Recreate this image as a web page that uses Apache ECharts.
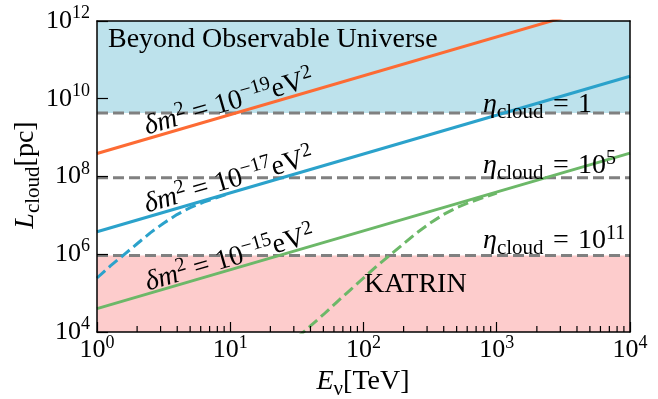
<!DOCTYPE html>
<html><head><meta charset="utf-8">
<script src="https://cdn.jsdelivr.net/npm/echarts@6/dist/echarts.min.js"></script>
<style>html,body{margin:0;padding:0;background:#fff}#c{width:658px;height:399px}</style>
</head><body><div id="c"></div>
<script>
// ---------- data ----------
const xRange = [1, 10000];                 // E_nu [TeV]
const yRange = [1e4, 1e12];                // L_cloud [pc]
const xMinorTicks = [2,3,4,5,6,7,8,9,20,30,40,50,60,70,80,90,200,300,400,500,600,700,800,900,2000,3000,4000,5000,6000,7000,8000,9000];

const solidE  = [1, 10000];
const orangeL = [3.9e8, 3.9e12];   // dm2 = 1e-19 eV^2
const blueL   = [3.8e6, 3.8e10];   // dm2 = 1e-17 eV^2
const greenL  = [4.0e4, 4.0e8];    // dm2 = 1e-15 eV^2

const blueDashE  = [1, 1.26, 1.58, 2.0, 2.51, 3.16, 3.98, 5.01, 6.31, 7.94, 10];
const blueDashL  = [2.45e5, 5.0e5, 9.5e5, 1.86e6, 3.55e6, 6.3e6, 1.05e7, 1.58e7, 2.19e7, 2.88e7, 3.72e7];
const greenDashE = [31.6, 39.8, 50.1, 63.1, 79.4, 100, 126, 158, 200, 251, 316, 398, 501, 631, 794, 1000];
const greenDashL = [7.1e3, 1.41e4, 2.82e4, 5.9e4, 1.2e5, 2.45e5, 5.0e5, 9.5e5, 1.86e6, 3.55e6, 6.3e6, 1.05e7, 1.58e7, 2.19e7, 2.88e7, 3.72e7];

const etaLevels  = [4.32e9, 9.3e7, 9.3e5];        // eta_cloud = 1, 1e5, 1e11
const etaExp     = ['', '5', '11'];
const universeBand = [4.32e9, 1e12];
const katrinBand   = [1e4, 9.3e5];
const dm2Exp = ['\u221219', '\u221217', '\u221215'];

// ---------- style ----------
const FONT = 'Liberation Serif';
const C_OR = '#fd6b34', C_BL = '#2ba2cb', C_GR = '#6cb868';
const C_GRAY = '#808080';
const DASH = [11, 5];

const zip = (a, b) => a.map((v, i) => [v, b[i]]);
function mkRich(fs, fss, fsb) {
  return {
    n:   {fontFamily: FONT, fontSize: fs, lineHeight: Math.round(fs * 1.25), color: '#000', fill: '#000'},
    it:  {fontFamily: FONT, fontSize: fs, lineHeight: Math.round(fs * 1.25), fontStyle: 'italic', color: '#000', fill: '#000'},
    sup: {fontFamily: FONT, fontSize: fss, verticalAlign: 'top', color: '#000', fill: '#000'},
    sub: {fontFamily: FONT, fontSize: fsb, verticalAlign: 'bottom', color: '#000', fill: '#000'}
  };
}
const richTick = mkRich(26, 18, 18);
const richText = mkRich(28, 20, 21);
const tickFmt = v => '{n|10}{sup|' + Math.round(Math.log10(v)) + '}';

const chart = echarts.init(document.getElementById('c'), null, {renderer: 'canvas'});

const ANG = Math.atan(38.9 / 133.25);
function txt(x, y, text, rot, align) {
  return {type: 'text', x: x, y: y, rotation: rot || 0, z: 100, silent: true,
    style: {text: text, rich: richText, fill: '#000', font: '28px ' + FONT,
      align: align || 'left', textAlign: align || 'left', verticalAlign: 'middle', textVerticalAlign: 'middle'}};
}
const dmPos = [[229, 103], [229, 181], [230, 259]];
const etaPos = [[483, 105], [483, 166], [483, 241]];
const graphics = [];
dm2Exp.forEach((e, i) => graphics.push(txt(dmPos[i][0], dmPos[i][1],
  '{it|\u03b4m}{sup|2}{n| = 10}{sup|' + e + '}{n|eV}{sup|2}', ANG, 'center')));
etaExp.forEach((e, i) => graphics.push(txt(etaPos[i][0], etaPos[i][1],
  '{it|\u03b7}{sub|cloud}{n|\u2004=\u2004' + (e ? '10' : '1') + '}' + (e ? '{sup|' + e + '}' : ''))));
graphics.push(txt(108, 40, '{n|Beyond Observable Universe}'));
graphics.push(txt(364, 285, '{n|KATRIN}'));
graphics.push(txt(363, 382, '{it|E}{sub|\u03bd}{n|[TeV]}', 0, 'center'));
graphics.push(txt(26, 175, '{it|L}{sub|cloud}{n|[pc]}', Math.PI / 2, 'center'));

const axLine = {show: true, lineStyle: {color: '#000', width: 1.5}};
const option = {
  animation: false,
  grid: {left: 97, top: 21, width: 533, height: 311, containLabel: false},
  xAxis: [
    {type: 'log', logBase: 10, min: xRange[0], max: xRange[1], z: 10,
     axisLine: axLine, splitLine: {show: false},
     axisTick: {inside: true, length: 10, lineStyle: {color: '#000', width: 1.2}},
     axisLabel: {formatter: tickFmt, rich: richTick, margin: 2, color: '#000'}},
    {type: 'log', logBase: 10, min: xRange[0], max: xRange[1], z: 10, position: 'top',
     axisLine: axLine, splitLine: {show: false}, axisTick: {show: false}, axisLabel: {show: false}}
  ],
  yAxis: [
    {type: 'log', logBase: 10, min: yRange[0], max: yRange[1], interval: 2, z: 10,
     axisLine: axLine, splitLine: {show: false},
     axisTick: {inside: true, length: 11, lineStyle: {color: '#000', width: 1.2}},
     axisLabel: {formatter: tickFmt, rich: richTick, margin: 7, color: '#000'}},
    {type: 'log', logBase: 10, min: yRange[0], max: yRange[1], z: 10, position: 'right',
     axisLine: axLine, splitLine: {show: false}, axisTick: {show: false}, axisLabel: {show: false}}
  ],
  graphic: graphics,
  series: [
    {type: 'line', z: 1, silent: true, symbol: 'none', data: zip(xRange, [yRange[0], yRange[0]]),
     lineStyle: {opacity: 0},
     markArea: {silent: true, data: [
       [{yAxis: universeBand[0], itemStyle: {color: '#bde2ec'}}, {yAxis: universeBand[1]}],
       [{yAxis: katrinBand[0], itemStyle: {color: '#fdcccc'}}, {yAxis: katrinBand[1]}]
     ]}},
    ...etaLevels.map(v => ({type: 'line', z: 2, silent: true, symbol: 'none',
      data: zip(xRange, [v, v]), lineStyle: {color: C_GRAY, width: 3, type: DASH}})),
    {type: 'line', z: 3, silent: true, symbol: 'none', data: zip(blueDashE, blueDashL),
     lineStyle: {color: C_BL, width: 3, type: DASH}},
    {type: 'line', z: 3, silent: true, symbol: 'none', data: zip(greenDashE, greenDashL),
     lineStyle: {color: C_GR, width: 3, type: DASH}},
    {type: 'line', z: 4, silent: true, symbol: 'none', data: zip(solidE, orangeL), lineStyle: {color: C_OR, width: 3}},
    {type: 'line', z: 4, silent: true, symbol: 'none', data: zip(solidE, blueL), lineStyle: {color: C_BL, width: 3}},
    {type: 'line', z: 4, silent: true, symbol: 'none', data: zip(solidE, greenL), lineStyle: {color: C_GR, width: 3}},
    {type: 'custom', z: 20, silent: true, clip: false, data: xMinorTicks.map(v => [v, yRange[0]]),
     renderItem: function (params, api) {
       const p = api.coord([api.value(0), api.value(1)]);
       return {type: 'line', shape: {x1: p[0], y1: p[1], x2: p[0], y2: p[1] - 6},
               style: {stroke: '#000', lineWidth: 1.2}};
     }}
  ]
};
chart.setOption(option);
</script></body></html>
